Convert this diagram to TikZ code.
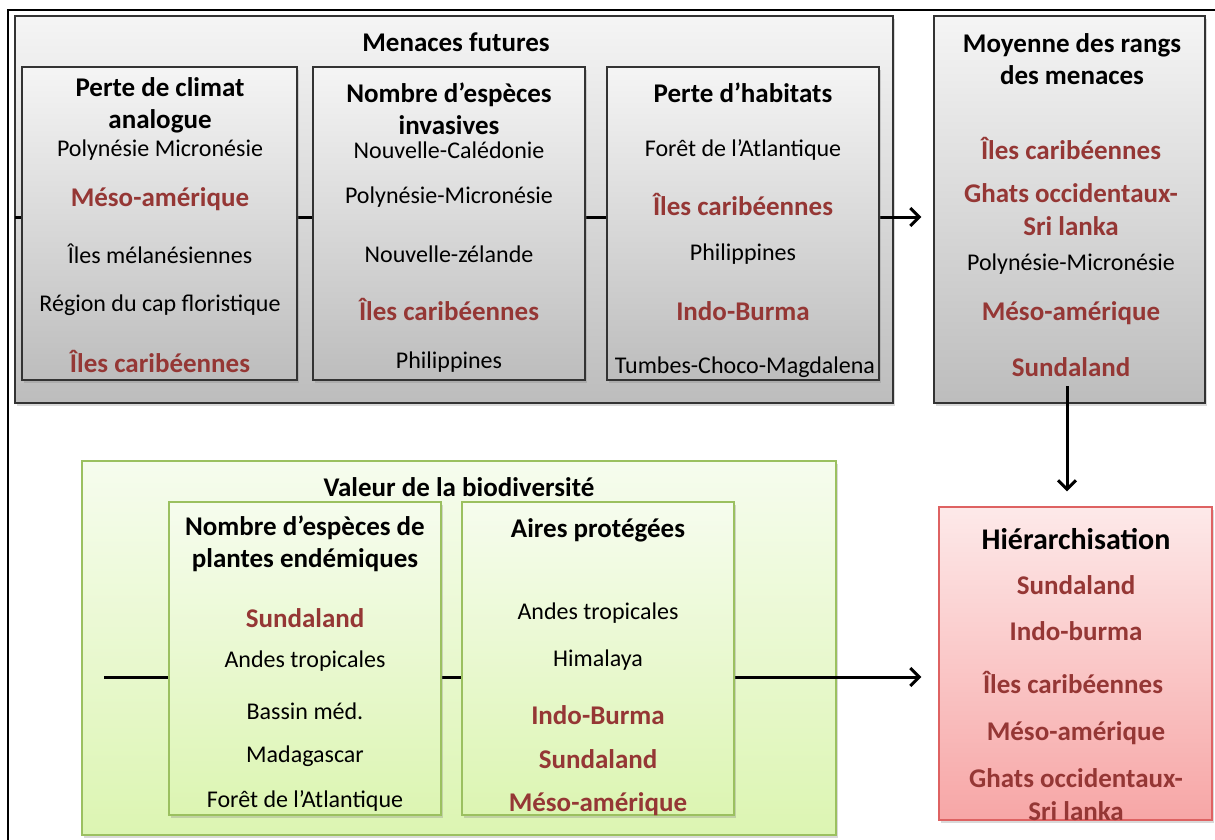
\documentclass[tikz,border=0pt]{standalone}
\usepackage{fontspec}
\setmainfont{Carlito}
\usetikzlibrary{arrows.meta,shadows}
\definecolor{redtxt}{HTML}{953735}
\definecolor{grntop}{HTML}{F6FCEE}
\definecolor{grnbot}{HTML}{DCF5B2}
\definecolor{grnline}{HTML}{9BC060}
\definecolor{pnktop}{HTML}{FDE9E9}
\definecolor{pnkbot}{HTML}{F7A6A6}
\definecolor{pnkline}{HTML}{DE6262}
\tikzset{
    arr/.style={draw=black, line width=3pt, -{Straight Barb[length=9pt, width=18pt, line width=3pt]}}
}

\begin{document}
\begin{tikzpicture}[x=1pt, y=-1pt,
    shd/.style={drop shadow={opacity=0.3, shadow xshift=2pt, shadow yshift=-3pt}},
    grybox/.style={draw=black!80, line width=1.2pt, top color=black!4, bottom color=black!26, shd},
    grnbox/.style={draw=grnline, line width=1.2pt, top color=grntop, bottom color=grnbot, shd},
    pnkbox/.style={draw=pnkline, line width=1.2pt, top color=pnktop, bottom color=pnkbot, shd},
    itm/.style={font=\fontsize{24}{29}\selectfont, inner sep=0pt},
    rd/.style={font=\bfseries\fontsize{27}{33}\selectfont, text=redtxt, align=center, inner sep=0pt},
    hd/.style={font=\bfseries\fontsize{27}{32}\selectfont, align=center, inner sep=0pt}
]
\useasboundingbox (0,0) rectangle (1215,839);
\draw[line width=1.5pt] (8,10) rectangle (1240,860);

% menaces futures
\node[grybox, minimum width=878pt, minimum height=387pt] (men) at (454,209.5) {};
\node[hd] (mentit) at (456,42) {Menaces futures};
\node[grybox, minimum width=271pt, minimum height=387pt] (moy) at (1069.5,209.5) {};
\coordinate (tin) at (15,217);
\path[arr, shorten >=12pt] (tin) -- (tin -| moy.west);
\node[grybox, minimum width=275pt, minimum height=313pt] (clim) at (159.5,223.5) {};
\node[grybox, minimum width=272pt, minimum height=313pt] (inv) at (449,223.5) {};
\node[grybox, minimum width=272pt, minimum height=313pt] (hab) at (743,223.5) {};

\node[hd] (climtit) at (160,105.5) {Perte de climat\\analogue};
\node[itm] (c1) at (160,150) {Polynésie Micronésie};
\node[rd] (c2) at (160,199) {Méso-amérique};
\node[itm] (c3) at (160,254) {Îles mélanésiennes};
\node[itm] (c4) at (160,305) {Région du cap floristique};
\node[rd] (c5) at (160,361) {Îles caribéennes};

\node[hd] (invtit) at (449,109) {Nombre d’espèces\\invasives};
\node[itm] (i1) at (449,150) {Nouvelle-Calédonie};
\node[itm] (i2) at (449,197) {Polynésie-Micronésie};
\node[itm] (i3) at (449,254) {Nouvelle-zélande};
\node[rd] (i4) at (449,309) {Îles caribéennes};
\node[itm] (i5) at (449,362) {Philippines};

\node[hd] (habtit) at (743,93) {Perte d’habitats};
\node[itm] (h1) at (743,150) {Forêt de l’Atlantique};
\node[rd] (h2) at (743,204) {Îles caribéennes};
\node[itm] (h3) at (743,254) {Philippines};
\node[rd] (h4) at (743,311) {Indo-Burma};
\node[itm] (h5) at (745,367) {Tumbes-Choco-Magdalena};

% moyenne des rangs
\node[hd] (moytit) at (1072,59.5) {Moyenne des rangs\\des menaces};
\node[rd] (m1) at (1071,148) {Îles caribéennes};
\node[rd] (m2) at (1071,209.5) {Ghats occidentaux-\\Sri lanka};
\node[itm] (m3) at (1071,264) {Polynésie-Micronésie};
\node[rd] (m4) at (1071,313) {Méso-amérique};
\node[rd] (m5) at (1071,367) {Sundaland};

% hierarchisation
\node[pnkbox, minimum width=273pt, minimum height=313pt] (hier) at (1075.5,663.5) {};
\coordinate (vin) at (1067,386);
\path[arr, shorten >=15pt] (vin) -- (vin |- hier.north);
\node[hd, font=\bfseries\fontsize{30}{36}\selectfont] (hiertit) at (1076,539) {Hiérarchisation};
\node[rd] (r1) at (1076,585) {Sundaland};
\node[rd] (r2) at (1076,631) {Indo-burma};
\node[rd] (r3) at (1073,682) {Îles caribéennes};
\node[rd] (r4) at (1076,733) {Méso-amérique};
\node[rd] (r5) at (1076,795) {Ghats occidentaux-\\Sri lanka};

% valeur de la biodiversite
\node[grnbox, minimum width=754pt, minimum height=374pt] (val) at (459,648) {};
\node[hd] (valtit) at (459,487) {Valeur de la biodiversité};
\coordinate (bin) at (104,677);
\path[arr, shorten >=17pt] (bin) -- (bin -| hier.west);
\node[grnbox, minimum width=272pt, minimum height=313pt] (ende) at (305,658.5) {};
\node[grnbox, minimum width=272pt, minimum height=313pt] (aires) at (598,658.5) {};

\node[hd] (endetit) at (305,543.5) {Nombre d’espèces de\\plantes endémiques};
\node[rd] (e1) at (305,618) {Sundaland};
\node[itm] (e2) at (305,661) {Andes tropicales};
\node[itm] (e3) at (305,711) {Bassin méd.};
\node[itm] (e4) at (305,756) {Madagascar};
\node[itm] (e5) at (305,801) {Forêt de l’Atlantique};

\node[hd] (airestit) at (598,530) {Aires protégées};
\node[itm] (a1) at (598,613) {Andes tropicales};
\node[itm] (a2) at (598,660) {Himalaya};
\node[rd] (a3) at (598,715) {Indo-Burma};
\node[rd] (a4) at (598,759) {Sundaland};
\node[rd] (a5) at (598,804) {Méso-amérique};
\end{tikzpicture}
\end{document}
